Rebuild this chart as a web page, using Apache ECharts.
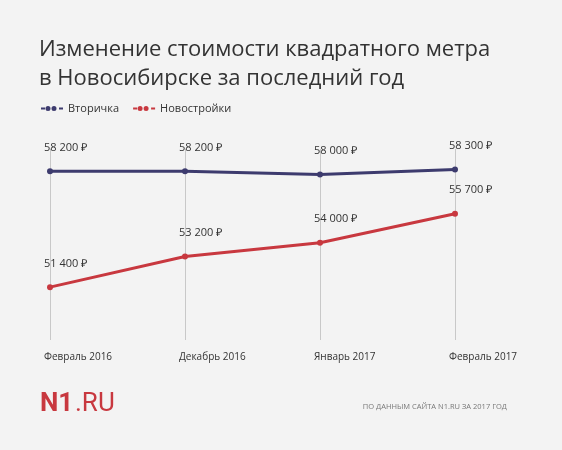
<!DOCTYPE html><html><head><meta charset="utf-8"><script src="https://cdn.jsdelivr.net/npm/echarts@6/dist/echarts.min.js"></script>
<style>body{margin:0;background:#f3f3f3}#c{width:562px;height:450px}</style></head><body><div id="c"></div><script>
const categories=['Февраль 2016','Декабрь 2016','Январь 2017','Февраль 2017'];
const secondary=[58200,58200,58000,58300];
const newBuild=[51400,53200,54000,55700];
const fmt=v=>String(v).replace(/\B(?=(\d{3})+$)/g,' ')+' ₽';
const c=echarts.init(document.getElementById('c'));
const lbl={show:true,position:'top',align:'left',offset:[-6,-10],color:'#333',fontSize:11,fontFamily:'Open Sans',formatter:p=>fmt(p.value)};
c.setOption({backgroundColor:'#f3f3f3',
title:{text:'Изменение стоимости квадратного метра\nв Новосибирске за последний год',left:34,top:30,textStyle:{fontSize:22,fontWeight:'normal',color:'#333',fontFamily:'Open Sans',lineHeight:29}},
legend:{left:36,top:98,itemWidth:22,itemHeight:8,itemGap:14,textStyle:{fontSize:11,color:'#333',fontFamily:'Open Sans'},icon:'path://M0,3h4v2h-4zM7,1.5a2.5,2.5 0 1 1 0,5a2.5,2.5 0 1 1 0,-5zM13,1.5a2.5,2.5 0 1 1 0,5a2.5,2.5 0 1 1 0,-5zM18,3h4v2h-4z'},
grid:{left:50,right:107,top:149,bottom:110},
xAxis:{type:'category',data:categories,boundaryGap:false,axisLine:{show:false},axisTick:{show:false},splitLine:{show:true,lineStyle:{color:'#c8c8c8'}},axisLabel:{margin:12,color:'#333',fontSize:10,fontFamily:'Open Sans',align:'left',padding:[0,0,0,-6]}},
yAxis:{type:'value',min:48300,max:59500,show:false,splitLine:{show:false}},
series:[
{name:'Вторичка',type:'line',data:secondary,color:'#3d3b6e',lineStyle:{width:3},symbol:'circle',symbolSize:6,label:lbl},
{name:'Новостройки',type:'line',data:newBuild,color:'#c8383f',lineStyle:{width:3},symbol:'circle',symbolSize:6,label:lbl}],
graphic:[
{type:'text',left:40,top:391,style:{text:'N1',fontSize:26,fontWeight:'bold',fill:'#c8383f',fontFamily:'Roboto'}},
{type:'text',left:75,top:391,style:{text:'.RU',fontSize:26,fill:'#c8383f',fontFamily:'Roboto'}},
{type:'text',right:55,top:403,style:{text:'ПО ДАННЫМ САЙТА N1.RU ЗА 2017 ГОД',fontSize:7.5,fill:'#777',fontFamily:'Open Sans',letterSpacing:1}}
]});
</script></body></html>
